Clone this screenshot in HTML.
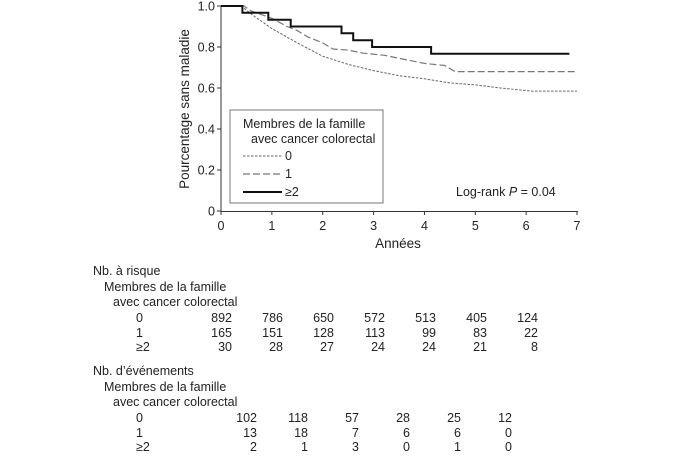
<!DOCTYPE html>
<html><head><meta charset="utf-8"><style>
body{margin:0;background:#fff;width:675px;height:453px;overflow:hidden}
svg text{font-family:"Liberation Sans",sans-serif;fill:#222}
</style></head><body>
<svg id="s" width="675" height="453" viewBox="0 0 675 453" xmlns="http://www.w3.org/2000/svg">
<g stroke="#333" stroke-width="1" fill="none">
<line x1="221" y1="6" x2="221" y2="212"/>
<line x1="221" y1="211.5" x2="578" y2="211.5"/>
</g>
<g id="ticks" stroke="#333" stroke-width="1"></g>
<g font-size="12.5" text-anchor="end" id="yl"></g>
<g font-size="12.5" text-anchor="middle" id="xl"></g>
<text x="398" y="248" font-size="13.5" text-anchor="middle">Années</text>
<text transform="translate(189,109) rotate(-90)" font-size="13.5" text-anchor="middle">Pourcentage sans maladie</text>
<path id="p0" fill="none" stroke="#666" stroke-width="1" stroke-dasharray="2.5,1.5"/>
<path id="p1" fill="none" stroke="#777" stroke-width="1.2" stroke-dasharray="7,3"/>
<path id="p2" fill="none" stroke="#111" stroke-width="2"/>
<rect x="230" y="110" width="153" height="93" fill="#fff" stroke="#777" stroke-width="1"/>
<g font-size="12.5">
<text x="243" y="128">Membres de la famille</text>
<text x="251" y="143">avec cancer colorectal</text>
<line x1="243" y1="156" x2="282" y2="156" stroke="#666" stroke-dasharray="2.5,1.5"/>
<text x="285" y="160">0</text>
<line x1="243" y1="174" x2="282" y2="174" stroke="#777" stroke-width="1.2" stroke-dasharray="7,3"/>
<text x="285" y="178">1</text>
<line x1="243" y1="192" x2="282" y2="192" stroke="#111" stroke-width="2"/>
<text x="285" y="196">≥2</text>
<text x="456" y="196">Log-rank <tspan font-style="italic">P</tspan> = 0.04</text>
</g>
<g font-size="12.5" id="tbl">
<text x="93" y="275">Nb. à risque</text>
<text x="104" y="291">Membres de la famille</text>
<text x="113" y="306">avec cancer colorectal</text>
<text x="136" y="322">0</text><text x="136" y="337">1</text><text x="136" y="351">≥2</text>
<text x="93" y="375">Nb. d’événements</text>
<text x="104" y="391">Membres de la famille</text>
<text x="113" y="406">avec cancer colorectal</text>
<text x="136" y="422">0</text><text x="136" y="437">1</text><text x="136" y="451">≥2</text>
</g>
</svg>
<script>
const NS="http://www.w3.org/2000/svg";
const X=t=>221+50.86*t, Y=v=>211-205*v;
function el(p,tag,a,txt){const e=document.createElementNS(NS,tag);for(const k in a)e.setAttribute(k,a[k]);if(txt!=null)e.textContent=txt;document.getElementById(p).appendChild(e);}
for(let i=0;i<=7;i++){el("ticks","line",{x1:X(i),y1:211,x2:X(i),y2:215});el("xl","text",{x:X(i),y:230},i);}
["0","0.2","0.4","0.6","0.8","1.0"].forEach((s,i)=>{const y=Y(i*0.2);el("ticks","line",{x1:217,y1:y,x2:221,y2:y});el("yl","text",{x:215,y:y+4.5},s);});
function smooth(id,pts){document.getElementById(id).setAttribute("d",pts.map((p,i)=>(i?"L":"M")+X(p[0]).toFixed(1)+","+Y(p[1]).toFixed(1)).join(""));}
smooth("p0",[[0,1],[0.4,1],[0.6,0.96],[1,0.89],[1.5,0.82],[2,0.755],[2.5,0.715],[3,0.685],[3.5,0.66],[4,0.645],[4.5,0.625],[5,0.615],[5.5,0.6],[6.1,0.585],[7,0.585]]);
smooth("p1",[[0,1],[0.45,1],[0.6,0.975],[1,0.94],[1.3,0.9],[1.5,0.88],[1.7,0.85],[2,0.82],[2.2,0.79],[2.5,0.785],[2.8,0.77],[3.2,0.76],[3.5,0.745],[4,0.72],[4.4,0.71],[4.6,0.68],[7,0.68]]);
const st=[[0,1],[0.42,0.967],[0.93,0.933],[1.37,0.9],[2.37,0.867],[2.6,0.833],[2.97,0.8],[4.13,0.767]];
let d="M"+X(0)+","+Y(1);
for(let i=1;i<st.length;i++){d+="H"+X(st[i][0]).toFixed(1)+"V"+Y(st[i][1]).toFixed(1);}
d+="H"+X(6.85);document.getElementById("p2").setAttribute("d",d);
const risk=[["892","786","650","572","513","405","124"],["165","151","128","113","99","83","22"],["30","28","27","24","24","21","8"]];
risk.forEach((r,j)=>r.forEach((v,i)=>el("tbl","text",{x:232+51*i,y:322+j*15-(j==2?1:0),"text-anchor":"end"},v)));
const ev=[["102","118","57","28","25","12"],["13","18","7","6","6","0"],["2","1","3","0","1","0"]];
ev.forEach((r,j)=>r.forEach((v,i)=>el("tbl","text",{x:257+51*i,y:422+j*15-(j==2?1:0),"text-anchor":"end"},v)));
</script>
</body></html>
